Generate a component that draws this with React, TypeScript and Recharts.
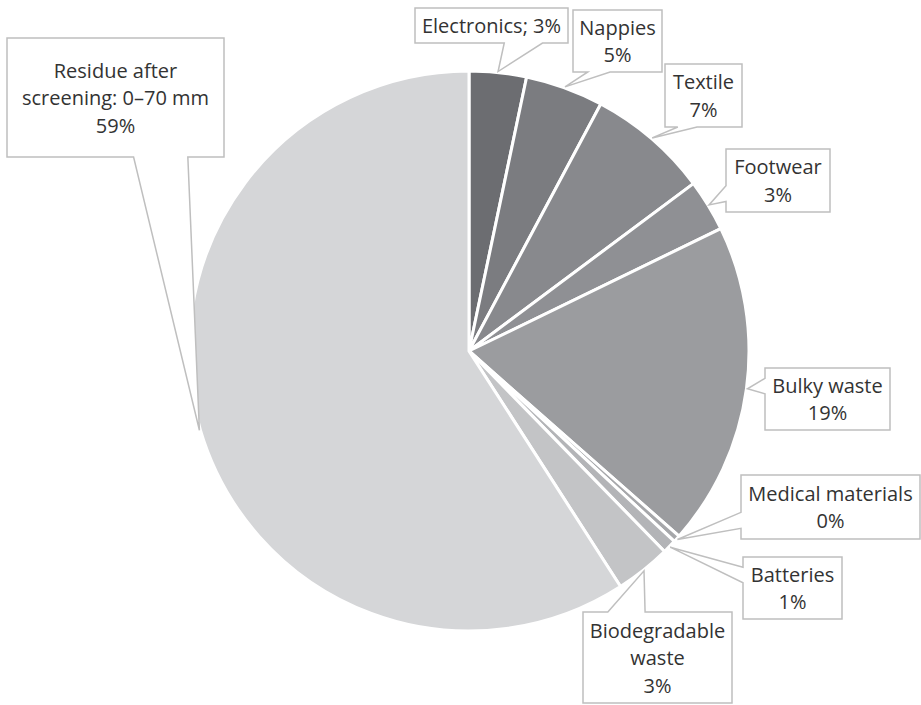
import React from "react";
import { PieChart, Pie, Cell } from "recharts";

// ---- data ----
const categories = [
  "Electronics",
  "Nappies",
  "Textile",
  "Footwear",
  "Bulky waste",
  "Medical materials",
  "Batteries",
  "Biodegradable\nwaste",
  "Residue after\nscreening: 0–70 mm",
];
const shares = [3.3, 4.5, 7.0, 3.0, 18.7, 0.4, 0.8, 3.2, 59.1];
const labelSeparators = ["; ", "\n", "\n", "\n", "\n", "\n", "\n", "\n", "\n"];

// ---- style / layout ----
const COLORS = [
  "#6c6d71",
  "#7b7c80",
  "#88898d",
  "#8f9094",
  "#9b9c9f",
  "#a6a7aa",
  "#b3b4b7",
  "#c3c4c6",
  "#d5d6d8",
];
// callout boxes: [x, y, w, h]
const BOXES: number[][] = [
  [415, 8, 153, 35],
  [573, 10, 89, 62],
  [665, 64, 77, 63],
  [726, 149, 104, 63],
  [765, 368, 125, 62],
  [741, 475, 179, 64],
  [743, 557, 99, 62],
  [583, 612, 149, 91],
  [7, 38, 217, 119],
];
const LINE_H = 27.5;
const FONT = "'Open Sans', Lato, sans-serif";

const data = categories.map((name, i) => ({ name, value: shares[i] }));

function calloutPath(x: number, y: number, w: number, h: number, tx: number, ty: number) {
  const dx = tx - (x + w / 2);
  const dy = ty - (y + h / 2);
  const dq = (dx * h) / w;
  const dz = Math.abs(dy) - Math.abs(dq);
  const xg1 = dx > 0 ? 7 : 2;
  const xg2 = dx > 0 ? 10 : 5;
  const yg1 = dy > 0 ? 7 : 2;
  const yg2 = dy > 0 ? 10 : 5;
  const x1 = x + (w * xg1) / 12;
  const x2 = x + (w * xg2) / 12;
  const y1 = y + (h * yg1) / 12;
  const y2 = y + (h * yg2) / 12;
  const r = x + w;
  const b = y + h;
  if (dz > 0) {
    if (dy < 0) {
      return `M${x},${y} L${x1},${y} L${tx},${ty} L${x2},${y} L${r},${y} L${r},${b} L${x},${b} Z`;
    }
    return `M${x},${y} L${r},${y} L${r},${b} L${x2},${b} L${tx},${ty} L${x1},${b} L${x},${b} Z`;
  }
  if (dx < 0) {
    return `M${x},${y} L${r},${y} L${r},${b} L${x},${b} L${x},${y2} L${tx},${ty} L${x},${y1} Z`;
  }
  return `M${x},${y} L${r},${y} L${r},${y1} L${tx},${ty} L${r},${y2} L${r},${b} L${x},${b} Z`;
}

const RAD = Math.PI / 180;

function renderLabel(props: any) {
  const { cx, cy, midAngle, outerRadius, index, percent } = props;
  const box = BOXES[index];
  if (!box) return null;
  const [bx, by, bw, bh] = box;
  const rr = outerRadius + 1;
  const tx = cx + rr * Math.cos(-midAngle * RAD);
  const ty = cy + rr * Math.sin(-midAngle * RAD);
  const pct = `${Math.round(percent * 100)}%`;
  const text = categories[index] + labelSeparators[index] + pct;
  const lines = text.split("\n");
  const midY = by + bh / 2;
  const firstY = midY - ((lines.length - 1) * LINE_H) / 2;
  return (
    <g key={`lbl-${index}`}>
      <path
        d={calloutPath(bx, by, bw, bh, tx, ty)}
        fill="#ffffff"
        stroke="#bfbfbf"
        strokeWidth={1.5}
      />
      <text
        x={bx + bw / 2}
        textAnchor="middle"
        fontFamily={FONT}
        fontSize={20}
        fill="#333333"
      >
        {lines.map((ln, i) => (
          <tspan key={i} x={bx + bw / 2} y={firstY + i * LINE_H} dominantBaseline="central">
            {ln}
          </tspan>
        ))}
      </text>
    </g>
  );
}

export default function App() {
  return (
    <div style={{ position: "absolute", left: 0, top: 0, width: 921, height: 705, background: "#ffffff" }}>
      <PieChart width={921} height={705} margin={{ top: 0, right: 0, bottom: 0, left: 0 }}>
        <Pie
          data={data}
          dataKey="value"
          nameKey="name"
          cx={469}
          cy={351}
          outerRadius={280}
          startAngle={90}
          endAngle={-270}
          stroke="#ffffff"
          strokeWidth={3}
          label={renderLabel}
          labelLine={false}
          isAnimationActive={false}
        >
          {data.map((d, i) => (
            <Cell key={d.name} fill={COLORS[i]} />
          ))}
        </Pie>
      </PieChart>
    </div>
  );
}
